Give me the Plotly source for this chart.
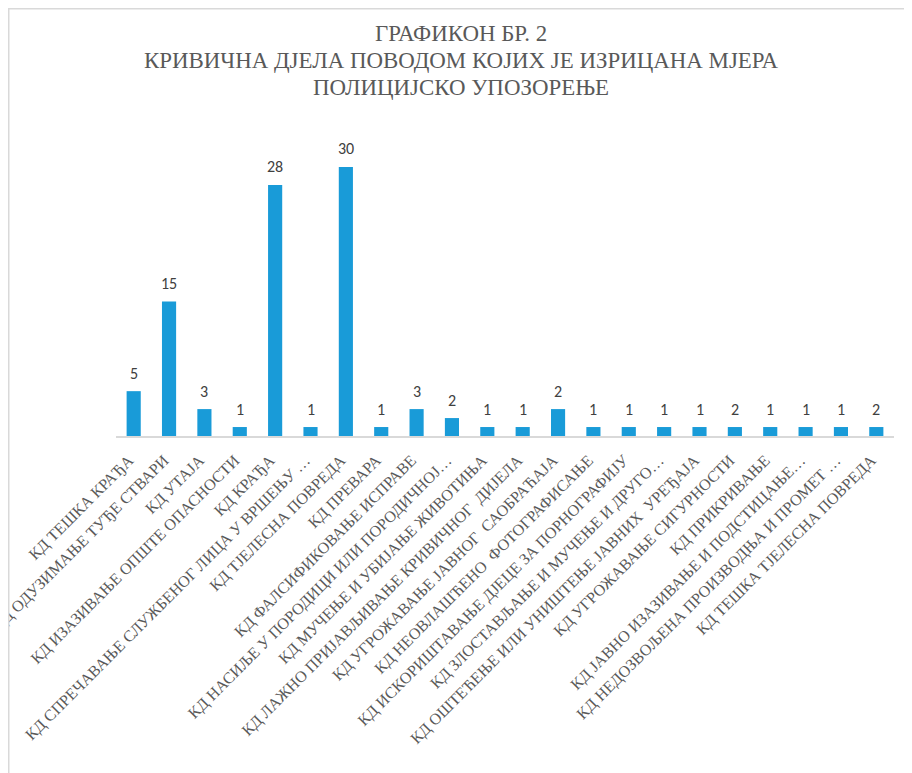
import plotly.graph_objects as go

categories = [
    "КД ТЕШКА КРАЂА",
    "КД ОДУЗИМАЊЕ ТУЂЕ СТВАРИ",
    "КД УТАЈА",
    "КД ИЗАЗИВАЊЕ ОПШТЕ ОПАСНОСТИ",
    "КД КРАЂА",
    "КД СПРЕЧАВАЊЕ СЛУЖБЕНОГ ЛИЦА У ВРШЕЊУ …",
    "КД ТЈЕЛЕСНА ПОВРЕДА",
    "КД ПРЕВАРА",
    "КД ФАЛСИФИКОВАЊЕ ИСПРАВЕ",
    "КД НАСИЉЕ У ПОРОДИЦИ ИЛИ ПОРОДИЧНОЈ…",
    "КД МУЧЕЊЕ И УБИЈАЊЕ ЖИВОТИЊА",
    "КД ЛАЖНО ПРИЈАВЉИВАЊЕ КРИВИЧНОГ  ДИЈЕЛА",
    "КД УГРОЖАВАЊЕ ЈАВНОГ  САОБРАЋАЈА",
    "КД НЕОВЛАШЋЕНО  ФОТОГРАФИСАЊЕ",
    "КД ИСКОРИШТАВАЊЕ ДЈЕЦЕ ЗА ПОРНОГРАФИЈУ",
    "КД ЗЛОСТАВЉАЊЕ И МУЧЕЊЕ И ДРУГО…",
    "КД ОШТЕЋЕЊЕ ИЛИ УНИШТЕЊЕ ЈАВНИХ  УРЕЂАЈА",
    "КД УГРОЖАВАЊЕ СИГУРНОСТИ",
    "КД ПРИКРИВАЊЕ",
    "КД ЈАВНО ИЗАЗИВАЊЕ И ПОДСТИЦАЊЕ…",
    "КД НЕДОЗВОЉЕНА ПРОИЗВОДЊА И ПРОМЕТ …",
    "КД ТЕШКА ТЈЕЛЕСНА ПОВРЕДА",
]
# bar heights as drawn in the reference
bar_values = [5, 15, 3, 1, 28, 1, 30, 1, 3, 2, 1, 1, 3, 1, 1, 1, 1, 1, 1, 1, 1, 1]
# data labels as printed in the reference
label_values = [5, 15, 3, 1, 28, 1, 30, 1, 3, 2, 1, 1, 2, 1, 1, 1, 1, 2, 1, 1, 1, 2]

title_lines = ["ГРАФИКОН БР. 2",
               "КРИВИЧНА ДЈЕЛА ПОВОДОМ КОЈИХ ЈЕ ИЗРИЦАНА МЈЕРА",
               "ПОЛИЦИЈСКО УПОЗОРЕЊЕ"]

BAR = "#199BD8"
TXT = "#595959"
SERIF = "Liberation Serif"

W, H = 912, 773
# figure pixel geometry (page is shown with an 8px body offset)
L, T = 108, 141
R = W - 886
B = H - 428
pw, ph = W - L - R, H - T - B

def px(x):
    return (x - L) / pw

def py(y):
    return (H - B - y) / ph

fig = go.Figure(go.Bar(
    x=categories, y=bar_values, marker_color=BAR, marker_line_width=0,
    hoverinfo="skip",
))

for c, v, t in zip(categories, bar_values, label_values):
    fig.add_annotation(x=c, y=v, text=str(t), showarrow=False,
                       yanchor="middle", yshift=18,
                       font=dict(family="Carlito", size=16, color="#404040"))

for i, line in enumerate(title_lines):
    fig.add_annotation(xref="paper", yref="paper", x=px(453), y=py(25 + 27 * i),
                       xanchor="center", yanchor="middle", showarrow=False,
                       text=line, font=dict(family=SERIF, size=22.9, color=TXT))

# chart frame
fig.add_shape(type="rect", xref="paper", yref="paper", x0=px(0.75), x1=px(960),
              y0=py(820), y1=py(0.75), fillcolor="rgba(0,0,0,0)",
              line=dict(color="#d9d9d9", width=1.5), layer="above")

fig.update_layout(
    width=W, height=H,
    margin=dict(l=L, r=R, t=T, b=B, autoexpand=False),
    paper_bgcolor="white", plot_bgcolor="white",
    bargap=0.6,
    showlegend=False,
    xaxis=dict(tickangle=-45, showline=True, linecolor="#d9d9d9", linewidth=1.5,
               ticks="", showgrid=False, ticklabelstandoff=7, ticklabelshift=-5,
               tickfont=dict(family=SERIF, size=16, color=TXT)),
    yaxis=dict(range=[0, 32], visible=False, showgrid=False, zeroline=False),
)

fig.write_html("out.html")
